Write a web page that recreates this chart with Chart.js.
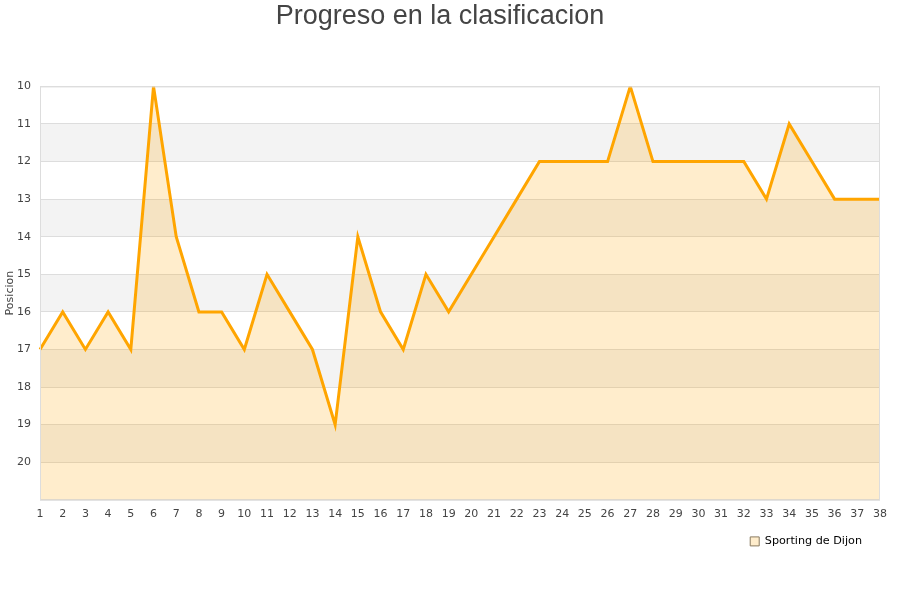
<!DOCTYPE html>
<html>
<head>
<meta charset="utf-8">
<script src="https://cdn.jsdelivr.net/npm/chart.js@4"></script>
<style>
  html, body { margin: 0; padding: 0; background: #fff; }
  #wrap { width: 900px; height: 600px; }
</style>
</head>
<body>
<div id="wrap"><canvas id="chart" width="900" height="600"></canvas></div>
<script>
const jornadas = ["1","2","3","4","5","6","7","8","9","10","11","12","13","14","15","16","17","18","19","20",
  "21","22","23","24","25","26","27","28","29","30","31","32","33","34","35","36","37","38"];
const posiciones = [17, 16, 17, 16, 17, 10, 14, 16, 16, 17, 15, 16, 17, 19, 14, 16, 17, 15, 16, 15,
  14, 13, 12, 12, 12, 12, 10, 12, 12, 12, 12, 12, 13, 11, 12, 13, 13, 13];
const equipo = "Sporting de Dijon";

// alternating grey bands behind the plot + frame
const bands = {
  id: "bands",
  afterLayout(chart) {
    // nudge the legend a bit left of the plot edge
    if (chart.legend) chart.legend.right -= 7;
  },
  beforeDraw(chart) {
    const { ctx, chartArea: a, scales: { y } } = chart;
    ctx.save();
    for (let v = 11; v < 21; v += 2) {
      const top = y.getPixelForValue(v);
      const bot = y.getPixelForValue(v + 1);
      ctx.fillStyle = "#f3f3f3";
      ctx.fillRect(a.left, top, a.right - a.left, bot - top);
    }
    ctx.restore();
  },
  afterDraw(chart) {
    const { ctx, chartArea: a } = chart;
    ctx.save();
    ctx.strokeStyle = "#dddddd";
    ctx.lineWidth = 1;
    ctx.strokeRect(a.left + 0.5, a.top + 0.5, a.right - a.left - 1, a.bottom - a.top);
    ctx.restore();
  }
};

const ctx = document.getElementById("chart").getContext("2d");
new Chart(ctx, {
  type: "line",
  data: {
    labels: jornadas,
    datasets: [{
      label: equipo,
      data: posiciones,
      borderColor: "#ffa500",
      backgroundColor: "rgba(255,165,0,0.2)",
      borderWidth: 3,
      pointRadius: 0,
      tension: 0,
      fill: { value: 21 }
    }]
  },
  options: {
    responsive: false,
    animation: false,
    layout: { padding: { left: 0, right: 20, top: 0, bottom: 43 } },
    plugins: {
      title: {
        display: true,
        text: "Progreso en la clasificacion",
        color: "#444",
        font: { family: "Liberation Sans", size: 27, weight: "normal" },
        padding: { top: 0, bottom: 54 }
      },
      legend: {
        position: "bottom",
        align: "end",
        labels: {
          color: "#000",
          font: { family: "DejaVu Sans", size: 11.2 },
          boxWidth: 9,
          boxHeight: 9,
          padding: 11,
          generateLabels: () => [{
            text: equipo,
            fillStyle: "rgba(255,165,0,0.2)",
            strokeStyle: "#8a7a60",
            lineWidth: 1,
            datasetIndex: 0
          }]
        }
      },
      tooltip: { enabled: false }
    },
    scales: {
      x: {
        grid: { display: false },
        border: { display: false },
        ticks: {
          color: "#444",
          font: { family: "DejaVu Sans", size: 11 },
          maxRotation: 0,
          autoSkip: false,
          padding: 0
        },
        afterFit: s => { s.height = 25; }
      },
      y: {
        reverse: true,
        min: 10,
        max: 21,
        grid: { color: "#dddddd", drawTicks: false },
        border: { display: false },
        ticks: {
          stepSize: 1,
          color: "#444",
          font: { family: "DejaVu Sans", size: 11 },
          padding: 9,
          callback: v => (v === 21 ? "" : v)
        },
        title: {
          display: true,
          text: "Posicion",
          color: "#444",
          font: { family: "DejaVu Sans", size: 11 },
          padding: { top: 4, bottom: 0 }
        },
        afterFit: s => { s.width = 40; }
      }
    }
  },
  plugins: [bands]
});
</script>
</body>
</html>
